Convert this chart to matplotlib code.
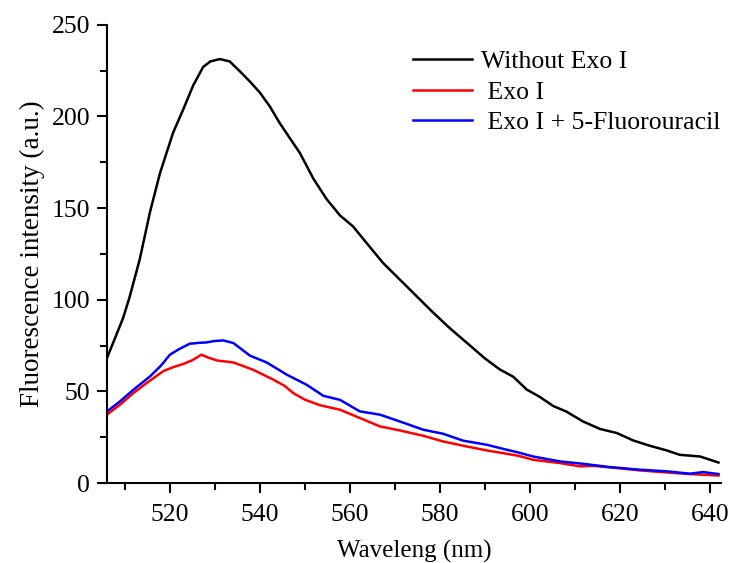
import matplotlib
matplotlib.use('Agg')
import matplotlib.pyplot as plt

plt.rcParams['font.family'] = ['Liberation Serif', 'DejaVu Serif']

# Without Exo I (black)
x_black = [506, 509.6, 511, 513.3, 515.6, 517.8, 520.7, 523, 525.2, 527.4, 529, 531.1,
           533.3, 535.6, 537.8, 540, 542.2, 544.4, 546.7, 548.9, 551.9, 554.8, 557.8,
           560.7, 563.7, 567.4, 571.1, 574.8, 578.5, 582.2, 586.7, 590, 593.3, 596.3,
           599.3, 602.2, 605.2, 608.1, 611.8, 615.6, 619.3, 623, 626.7, 630.4, 633.3,
           637.8, 641.9]
y_black = [68, 90, 101, 122, 148, 169, 191, 204, 217, 227, 230, 231.3,
           230, 224.5, 219, 213, 205.5, 196.4, 188, 180, 166, 155, 146,
           140, 131, 120, 111, 102, 93, 84.5, 75, 68, 62, 58,
           51, 47, 42, 39, 33.6, 29.5, 27.3, 23.2, 20.3, 17.8, 15.4,
           14.5, 11.2]

# Exo I (red)
x_red = [506, 508.9, 511.9, 514.8, 518.5, 520.5, 523, 525, 527, 528.5, 530.4, 534.1,
         538.5, 543, 545.5, 547.4, 550, 553.3, 557.8, 562.2, 566.7, 571.1, 576.3,
         580.7, 585.9, 590.4, 594.8, 597.4, 600.7, 606.7, 611.1, 614, 619.3, 624.4,
         630.4, 635.6, 641.9]
y_red = [37.3, 42.7, 49.1, 54.5, 61, 63, 65, 67, 70, 68.5, 66.9, 65.8,
         61.8, 56.4, 53, 49.1, 45.5, 42.5, 40, 35.5, 30.9, 28.7, 25.8,
         22.7, 20, 17.8, 16, 14.9, 12.7, 10.9, 9.1, 9.4, 8.2, 6.9,
         5.8, 4.9, 4.1]

# Exo I + 5-Fluorouracil (blue)
x_blue = [506, 508.9, 511.9, 515.6, 518, 520, 522, 524.4, 526.5, 528.1, 530, 531.9,
          534.1, 537.8, 541.5, 546, 550.4, 554.1, 557.8, 562.2, 566.7, 571.1, 576.3,
          580.7, 585.2, 590.4, 594.8, 597.4, 600.7, 606.7, 611.8, 617.8, 624.4,
          630.4, 635.6, 638.5, 641.9]
y_blue = [39, 44.5, 50.9, 58.2, 64, 70, 73, 76, 76.5, 76.7, 77.5, 77.8,
          76.4, 69.5, 65.8, 59.1, 53.6, 47.6, 45.4, 39.1, 37.3, 33.6, 29.1,
          26.9, 23.1, 20.9, 18.2, 16.7, 14.5, 11.8, 10.5, 8.7, 7.3,
          6.4, 5.1, 6, 4.9]

fig = plt.figure(figsize=(7.37, 5.63), dpi=100)
ax = fig.add_axes([0.145, 0.142, 0.8335, 0.814])

ax.plot(x_black, y_black, color='black', lw=1.8, label='Without Exo I')
ax.plot(x_red, y_red, color='#ff0000', lw=1.8, label=' Exo I')
ax.plot(x_blue, y_blue, color='#0000ff', lw=1.8, label=' Exo I + 5-Fluorouracil')

ax.set_xlim(506, 642.5)
ax.set_ylim(0, 250)
ax.set_xticks([520, 540, 560, 580, 600, 620, 640])
ax.set_xticks([510, 530, 550, 570, 590, 610, 630], minor=True)
ax.set_yticks([0, 50, 100, 150, 200, 250])
ax.set_yticks([25, 75, 125, 175, 225], minor=True)

for s in ['top', 'right']:
    ax.spines[s].set_visible(False)
for s in ['left', 'bottom']:
    ax.spines[s].set_linewidth(1.5)

ax.tick_params(which='major', direction='out', length=7, width=1.5, labelsize=18.5, pad=5)
ax.tick_params(which='minor', direction='out', length=5, width=1.5)
ax.tick_params(axis='x', pad=8)

ax.set_xlabel('Waveleng (nm)', fontsize=18, labelpad=10)
ax.set_ylabel('Fluorescence intensity (a.u.)', fontsize=19.5, labelpad=5)

ax.legend(loc='upper left', bbox_to_anchor=(413 / 737, 1 - 50 / 563),
          bbox_transform=fig.transFigure, frameon=False, fontsize=18.5,
          handlelength=2.3, handletextpad=0.34, labelspacing=0.3,
          borderpad=0, borderaxespad=0)

fig.savefig('out.png', dpi=100)
